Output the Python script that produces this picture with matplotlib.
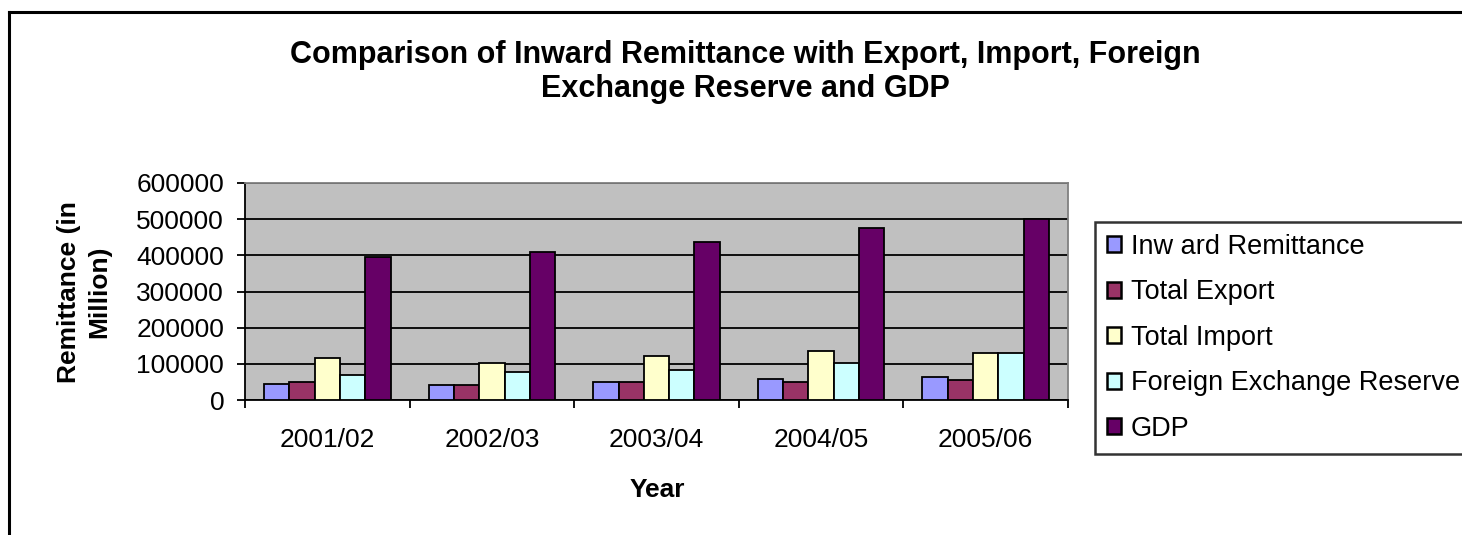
import numpy as np
import matplotlib
matplotlib.use("Agg")
import matplotlib.pyplot as plt
from matplotlib.patches import Rectangle
from matplotlib.lines import Line2D

plt.rcParams['font.family'] = ['Liberation Sans', 'DejaVu Sans']

years = ['2001/02', '2002/03', '2003/04', '2004/05', '2005/06']
series_names = ['Inw ard Remittance', 'Total Export', 'Total Import',
                'Foreign Exchange Reserve', 'GDP']

# values in million
inward_remittance = [44000, 41500, 49000, 57000, 63000]
total_export = [50500, 41500, 49000, 50000, 56000]
total_import = [115500, 103000, 122500, 136500, 129000]
forex_reserve = [69000, 76500, 83000, 102500, 129000]
gdp = [395000, 410000, 437000, 475500, 500500]

series = [inward_remittance, total_export, total_import, forex_reserve, gdp]
colors = ['#9999FF', '#993366', '#FFFFCC', '#CCFFFF', '#660066']

W, H = 1462, 535
fig = plt.figure(figsize=(W / 100, H / 100), dpi=100)

# plot area in pixel coordinates
left, right, top, bottom = 245, 1068, 183, 400
ax = fig.add_axes([left / W, 1 - bottom / H, (right - left) / W, (bottom - top) / H])
ax.set_facecolor('#C0C0C0')

x = np.arange(len(years))
bar_w = 1 / 6.5
for i, (vals, c) in enumerate(zip(series, colors)):
    offs = (i - 2) * bar_w
    ax.bar(x + offs, vals, width=bar_w, color=c, edgecolor='black',
           linewidth=1.3, zorder=3)

ax.set_xlim(-0.5, len(years) - 0.5)
ax.set_ylim(0, 600000)
ax.set_yticks(np.arange(0, 600001, 100000))
ax.set_yticklabels([str(v) for v in range(0, 600001, 100000)], fontsize=19)

# category boundaries get the tick marks, labels sit in the middle
ax.set_xticks(np.arange(-0.5, len(years), 1.0))
ax.set_xticklabels([])
ax.set_xticks(x, minor=True)
ax.set_xticklabels(years, minor=True, fontsize=19)
ax.tick_params(axis='x', which='minor', length=0, pad=20)
ax.tick_params(axis='x', which='major', length=6, width=1.3, direction='out')
ax.tick_params(axis='y', length=6, width=1.3, direction='out', pad=9)

ax.set_axisbelow(True)
ax.yaxis.grid(True, color='black', linewidth=1.3)
for s in ['top', 'right']:
    ax.spines[s].set_color('#808080')
    ax.spines[s].set_linewidth(1.3)
for s in ['left', 'bottom']:
    ax.spines[s].set_color('black')
    ax.spines[s].set_linewidth(1.3)

fig.text(745 / W, 1 - 72 / H,
         'Comparison of Inward Remittance with Export, Import, Foreign\nExchange Reserve and GDP',
         ha='center', va='center', fontsize=22, fontweight='bold', linespacing=1.15)
fig.text(84 / W, 1 - 292 / H, 'Remittance (in\nMillion)', rotation=90,
         ha='center', va='center', fontsize=19, fontweight='bold',
         multialignment='center', linespacing=1.35)
fig.text(657 / W, 1 - 490 / H, 'Year', ha='center', va='center',
         fontsize=19, fontweight='bold')

handles = [Rectangle((0, 0), 1, 1, facecolor=c, edgecolor='black', linewidth=1.8)
           for c in colors]
leg = fig.legend(handles, series_names, loc='upper left',
                 bbox_to_anchor=(1095 / W, 1 - 222 / H), fontsize=19.5,
                 frameon=True, fancybox=False, handlelength=0.52,
                 handleheight=0.52, handletextpad=0.37, labelspacing=0.72,
                 borderpad=0.44, borderaxespad=0)
leg.get_frame().set_edgecolor('black')
leg.get_frame().set_linewidth(1.8)

# chart border (only the left and top edges fall inside the image)
fig.add_artist(Line2D([8.5 / W, 8.5 / W], [0, 1 - 12 / H], color='black', linewidth=2.2))
fig.add_artist(Line2D([8.5 / W, 1], [1 - 12 / H, 1 - 12 / H], color='black', linewidth=2.2))

fig.savefig('out.png', dpi=100)
